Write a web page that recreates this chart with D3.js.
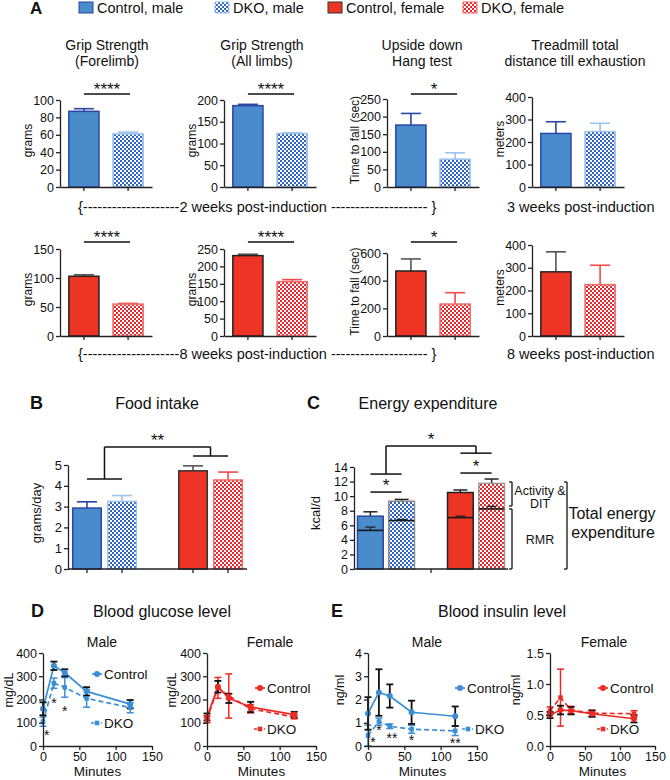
<!DOCTYPE html>
<html><head><meta charset="utf-8">
<script src="https://cdn.jsdelivr.net/npm/d3@7"></script>
<style>body{margin:0;background:#fff}svg{display:block}</style>
</head><body><svg id="chart" width="670" height="780"></svg>
<script>
// ---------------- DATA ----------------
const groupLabels = ["Control, male", "DKO, male", "Control, female", "DKO, female"];
const testTitles = [["Grip Strength","(Forelimb)"],["Grip Strength","(All limbs)"],["Upside down","Hang test"],["Treadmill total","distance till exhaustion"]];
const testYLabels = ["grams","grams","Time to fall (sec)","meters"];
const maleYMax = [100, 200, 250, 400];
const maleYStep = [20, 50, 50, 100];
const femaleYMax = [150, 250, 600, 400];
const femaleYStep = [50, 50, 200, 100];
const maleCtrlMean = [87, 187, 176, 238];
const maleCtrlErr = [3, 3, 33, 52];
const maleDkoMean = [61, 123, 79, 246];
const maleDkoErr = [2, 1.5, 18, 37];
const femCtrlMean = [103, 231, 470, 282];
const femCtrlErr = [2.5, 4, 87, 88];
const femDkoMean = [55, 156, 231, 226];
const femDkoErr = [1.2, 6, 82, 85];
const maleSig = ["****", "****", "*", ""];
const femSig = ["****", "****", "*", ""];
const captionsRow1 = ["2 weeks post-induction", "3 weeks post-induction"];
const captionsRow2 = ["8 weeks post-induction", "8 weeks post-induction"];

const foodSex = ["male", "male", "female", "female"];
const foodGeno = ["Control", "DKO", "Control", "DKO"];
const foodMean = [2.93, 3.25, 4.72, 4.28];
const foodErr = [0.3, 0.28, 0.24, 0.38];
const foodTicks = [0, 1, 2, 3, 4, 5];

const energyTotal = [7.25, 9.3, 10.5, 11.75];
const energyTotalErr = [0.6, 0.25, 0.35, 0.6];
const energyRmr = [5.3, 6.65, 7.05, 8.25];
const energyRmrErr = [0.45, 0.15, 0.2, 0.35];
const energyTicks = [0, 2, 4, 6, 8, 10, 12, 14];

const minutes = [0, 15, 30, 60, 120];
const minuteTicks = [0, 50, 100, 150];
const glucoseTicks = [0, 100, 200, 300, 400];
const glucMaleCtrl = [160, 345, 315, 235, 180];
const glucMaleCtrlErr = [28, 18, 15, 18, 18];
const glucMaleDko = [105, 270, 252, 205, 165];
const glucMaleDkoErr = [20, 22, 42, 38, 22];
const glucFemCtrl = [125, 255, 205, 168, 135];
const glucFemCtrlErr = [15, 25, 20, 22, 12];
const glucFemDko = [115, 250, 215, 160, 125];
const glucFemDkoErr = [15, 45, 95, 18, 8];
const insMaleTicks = [0, 1, 2, 3, 4];
const insMaleCtrl = [1.4, 2.3, 2.15, 1.45, 1.28];
const insMaleCtrlErr = [0.7, 1.0, 0.5, 0.5, 0.42];
const insMaleDko = [0.45, 1.05, 0.85, 0.72, 0.65];
const insMaleDkoErr = [0.45, 0.15, 0.1, 0.17, 0.2];
const insFemTicks = [0, 0.5, 1.0, 1.5];
const insFemCtrl = [0.5, 0.58, 0.57, 0.52, 0.44];
const insFemCtrlErr = [0.05, 0.07, 0.06, 0.05, 0.06];
const insFemDko = [0.57, 0.78, 0.58, 0.53, 0.52];
const insFemDkoErr = [0.06, 0.46, 0.06, 0.05, 0.05];
// star annotations: [minute, value, label]
const glucMaleStars = [[5, 50, "*"], [15, 190, "*"], [30, 155, "*"]];
const insMaleStars = [[7, 0.22, "*"], [15, 0.72, "*"], [33, 0.38, "**"], [60, 0.3, "*"], [120, 0.18, "**"]];

// ---------------- SETUP ----------------
const FONT = "'Liberation Sans', Arial, Helvetica, sans-serif";
const COL = {
  blue: "#4a8bcb", blueStroke: "#2a46a6", blueLight: "#9cc3ec", blueHatch: "#2f63c6",
  red: "#ee3424", redStroke: "#222", redLight: "#f26b6b", redHatch: "#e8262b",
  lineBlue: "#3a8ed6", lineRed: "#ee2a24", ink: "#111"
};
const svg = d3.select("#chart");
svg.append("rect").attr("width", 670).attr("height", 780).attr("fill", "#fff");
const defs = svg.append("defs");
function checker(id, color) {
  const p = defs.append("pattern").attr("id", id).attr("width", 4).attr("height", 4)
    .attr("patternUnits", "userSpaceOnUse");
  p.append("rect").attr("width", 4).attr("height", 4).attr("fill", "#fff");
  p.append("rect").attr("width", 2).attr("height", 2).attr("fill", color);
  p.append("rect").attr("x", 2).attr("y", 2).attr("width", 2).attr("height", 2).attr("fill", color);
}
checker("chkBlue", COL.blueHatch);
checker("chkRed", COL.redHatch);

function txt(x, y, s, o = {}) {
  const t = svg.append("text").attr("x", x).attr("y", y).text(s)
    .attr("font-family", FONT).attr("font-size", o.fs || 14).attr("fill", o.fill || COL.ink)
    .attr("text-anchor", o.anchor || "start");
  if (o.bold) t.attr("font-weight", "bold");
  if (o.rotate) t.attr("transform", `rotate(-90,${x},${y})`);
  return t;
}
function ln(x1, y1, x2, y2, stroke = COL.ink, w = 1.3, dash = null) {
  const l = svg.append("line").attr("x1", x1).attr("y1", y1).attr("x2", x2).attr("y2", y2)
    .attr("stroke", stroke).attr("stroke-width", w);
  if (dash) l.attr("stroke-dasharray", dash);
  return l;
}
function styleAxis(g, fs) {
  g.attr("font-family", FONT).attr("font-size", fs);
  g.select(".domain").attr("stroke", "#222").attr("stroke-width", 1.3);
  g.selectAll(".tick line").attr("stroke", "#222").attr("stroke-width", 1.3);
  g.selectAll(".tick text").attr("fill", COL.ink);
}
function leftAxis(scale, x, ticks, fmt, fs = 12) {
  const g = svg.append("g").attr("transform", `translate(${x},0)`)
    .call(d3.axisLeft(scale).tickValues(ticks).tickFormat(fmt).tickSize(4).tickSizeOuter(0).tickPadding(2));
  styleAxis(g, fs);
  return g;
}
function errBar(x, yFrom, yTo, half, color, w = 1.5) {
  ln(x, yFrom, x, yTo, color, w);
  ln(x - half, yTo, x + half, yTo, color, w);
}

// ---------------- PANEL A ----------------
txt(30, 14, "A", { fs: 17, bold: true });
const legendX = [79, 215, 328, 463];
const legendFill = [COL.blue, "url(#chkBlue)", COL.red, "url(#chkRed)"];
const legendStroke = [COL.blueStroke, COL.blueLight, "#333", COL.redLight];
groupLabels.forEach((g, i) => {
  svg.append("rect").attr("x", legendX[i]).attr("y", 2).attr("width", 14).attr("height", 11)
    .attr("fill", legendFill[i]).attr("stroke", legendStroke[i]).attr("stroke-width", 1);
  txt(legendX[i] + 18, 13, g, { fs: 14.5 });
});
const titleX = [107, 262, 422, 575];
testTitles.forEach((t, i) => {
  txt(titleX[i], 50, t[0], { anchor: "middle", fs: 14 });
  txt(titleX[i], 66, t[1], { anchor: "middle", fs: 14 });
});

const colAxisX = [60, 224, 387, 532];
const rowsA = [
  { top: [100, 100, 99, 97], bot: 187, yMax: maleYMax, step: maleYStep,
    cm: maleCtrlMean, ce: maleCtrlErr, dm: maleDkoMean, de: maleDkoErr, sig: maleSig, sigY: 94,
    cFill: COL.blue, cStroke: COL.blueStroke, cErr: COL.blueStroke,
    dFill: "url(#chkBlue)", dStroke: COL.blueLight, dErr: COL.blueLight },
  { top: [249, 249, 253, 245], bot: 336, yMax: femaleYMax, step: femaleYStep,
    cm: femCtrlMean, ce: femCtrlErr, dm: femDkoMean, de: femDkoErr, sig: femSig, sigY: 242,
    cFill: COL.red, cStroke: COL.redStroke, cErr: "#555",
    dFill: "url(#chkRed)", dStroke: COL.redLight, dErr: "#f04a4a" }
];
rowsA.forEach(r => {
  colAxisX.forEach((ax, c) => {
    const y = d3.scaleLinear().domain([0, r.yMax[c]]).range([r.bot, r.top[c]]);
    const x = d3.scaleBand().domain(["Control", "DKO"]).range([ax, ax + 92]).paddingInner(0.318).paddingOuter(0.2);
    const bw = x.bandwidth();
    const bars = [
      { k: "Control", m: r.cm[c], e: r.ce[c], fill: r.cFill, stroke: r.cStroke, err: r.cErr },
      { k: "DKO", m: r.dm[c], e: r.de[c], fill: r.dFill, stroke: r.dStroke, err: r.dErr }
    ];
    bars.forEach(b => {
      errBar(x(b.k) + bw / 2, y(b.m), y(b.m + b.e), 10, b.err, 1.6);
      svg.append("rect").attr("x", x(b.k)).attr("y", y(b.m)).attr("width", bw).attr("height", y(0) - y(b.m))
        .attr("fill", b.fill).attr("stroke", b.stroke).attr("stroke-width", 1.5);
    });
    const ticks = d3.range(0, r.yMax[c] + 0.001, r.step[c]);
    leftAxis(y, ax, ticks, d3.format("d"), 12.5);
    const xb = svg.append("g").attr("transform", `translate(0,${r.bot})`)
      .call(d3.axisBottom(x).tickSize(4).tickSizeOuter(0).tickFormat(""));
    styleAxis(xb, 12);
    txt(ax - 28, (r.top[c] + r.bot) / 2 - 3, testYLabels[c], { fs: 12, anchor: "middle", rotate: true });
    if (r.sig[c]) {
      const x1 = x("Control") + bw / 2, x2 = x("DKO") + bw / 2 + 2;
      ln(x1, r.sigY, x2, r.sigY, COL.ink, 1.4);
      txt((x1 + x2) / 2, r.sigY + 1, r.sig[c], { fs: 17, anchor: "middle" });
    }
  });
});
const dashes = "-".repeat(20);
txt(78, 212, "{" + dashes + captionsRow1[0] + " " + dashes + " }", { fs: 14.5 });
txt(507, 212, captionsRow1[1], { fs: 14.5 });
txt(78, 359, "{" + dashes + captionsRow2[0] + " " + dashes + " }", { fs: 14.5 });
txt(507, 359, captionsRow2[1], { fs: 14.5 });

// ---------------- PANEL B ----------------
txt(30, 409, "B", { fs: 18, bold: true });
txt(157, 409, "Food intake", { fs: 16, anchor: "middle" });
{
  const bx = d3.scaleBand().domain(["male", "female"]).range([68, 247]).paddingInner(0.396).paddingOuter(0.042);
  const bxi = d3.scaleBand().domain(["Control", "DKO"]).range([0, bx.bandwidth()]).paddingInner(0.186).paddingOuter(0.007);
  const by = d3.scaleLinear().domain([0, 5]).range([569, 465]);
  const bw = bxi.bandwidth();
  const fills = [COL.blue, "url(#chkBlue)", COL.red, "url(#chkRed)"];
  const strokes = [COL.blueStroke, COL.blueLight, "#333", COL.redLight];
  const errs = [COL.blueStroke, COL.blueLight, "#555", "#f04a4a"];
  const cx = i => bx(foodSex[i]) + bxi(foodGeno[i]) + bw / 2;
  foodMean.forEach((m, i) => {
    const x0 = bx(foodSex[i]) + bxi(foodGeno[i]);
    errBar(x0 + bw / 2, by(m), by(m + foodErr[i]), 10, errs[i], 1.6);
    svg.append("rect").attr("x", x0).attr("y", by(m)).attr("width", bw).attr("height", by(0) - by(m))
      .attr("fill", fills[i]).attr("stroke", strokes[i]).attr("stroke-width", 1.5);
  });
  leftAxis(by, 68, foodTicks, d3.format("d"), 13);
  ln(68, 569, 247, 569, "#222", 1.3);
  foodMean.forEach((m, i) => ln(cx(i), 569, cx(i), 573, "#222", 1.3));
  txt(41, 513, "grams/day", { fs: 13, anchor: "middle", rotate: true });
  const yM = by(4.33), yF = by(5.43), yT = by(5.87);
  const mMid = (cx(0) + cx(1)) / 2, fMid = (cx(2) + cx(3)) / 2;
  ln(cx(0), yM, cx(1), yM, COL.ink, 1.5);
  ln(cx(2), yF, cx(3), yF, COL.ink, 1.5);
  ln(mMid, yM, mMid, yT, COL.ink, 1.5);
  ln(fMid, yF, fMid, yT, COL.ink, 1.5);
  ln(mMid, yT, fMid, yT, COL.ink, 1.5);
  txt((mMid + fMid) / 2, yT - 1, "**", { fs: 17, anchor: "middle" });
}

// ---------------- PANEL C ----------------
txt(307, 409, "C", { fs: 18, bold: true });
txt(428, 409, "Energy expenditure", { fs: 16, anchor: "middle" });
{
  const cxs = d3.scaleBand().domain(["male", "female"]).range([354, 508]).paddingInner(0.367).paddingOuter(0.039);
  const cxi = d3.scaleBand().domain(["Control", "DKO"]).range([0, cxs.bandwidth()]).paddingInner(0.177).paddingOuter(0);
  const cy = d3.scaleLinear().domain([0, 14]).range([569, 467]);
  const bw = cxi.bandwidth();
  const fills = [COL.blue, "url(#chkBlue)", COL.red, "url(#chkRed)"];
  const strokes = ["#2a4a9a", "#8a8a8a", "#222", "#999"];
  const cx = i => cxs(foodSex[i]) + cxi(foodGeno[i]) + bw / 2;
  energyTotal.forEach((m, i) => {
    const x0 = cx(i) - bw / 2;
    errBar(cx(i), cy(m), cy(m + energyTotalErr[i]), 7, "#222", 1.5);
    svg.append("rect").attr("x", x0).attr("y", cy(m)).attr("width", bw).attr("height", cy(0) - cy(m))
      .attr("fill", fills[i]).attr("stroke", strokes[i]).attr("stroke-width", 1.5);
    errBar(cx(i), cy(energyRmr[i]), cy(energyRmr[i] + energyRmrErr[i]), 5, "#222", 1.3);
    ln(x0, cy(energyRmr[i]), x0 + bw, cy(energyRmr[i]), "#1a1a1a", 1.6);
  });
  leftAxis(cy, 354, energyTicks, d3.format("d"), 12.5);
  ln(354, 569, 508, 569, "#222", 1.3);
  ln(431, 569, 431, 573, "#222", 1.3);
  txt(320, 513, "kcal/d", { fs: 13, anchor: "middle", rotate: true });
  const mMid = (cx(0) + cx(1)) / 2, fMid = (cx(2) + cx(3)) / 2;
  const yMl = cy(10.56), yMu = cy(13.03), yFl = cy(13.17), yFu = cy(15.9), yT = cy(16.87);
  ln(cx(0), yMl, cx(1), yMl, COL.ink, 1.5);
  txt(mMid, yMl - 1, "*", { fs: 17, anchor: "middle" });
  ln(cx(0), yMu, cx(1), yMu, COL.ink, 1.5);
  ln(cx(2), yFl, cx(3), yFl, COL.ink, 1.5);
  txt(fMid, yFl - 1, "*", { fs: 17, anchor: "middle" });
  ln(cx(2), yFu, cx(3), yFu, COL.ink, 1.5);
  ln(mMid, yMu, mMid, yT, COL.ink, 1.5);
  ln(fMid, yFu, fMid, yT, COL.ink, 1.5);
  ln(mMid, yT, fMid, yT, COL.ink, 1.5);
  txt((mMid + fMid) / 2, yT - 1, "*", { fs: 17, anchor: "middle" });
  function bracket(x, y1, y2) {
    ln(x - 3, y1, x, y1, COL.ink, 1.3); ln(x, y1, x, y2, COL.ink, 1.3); ln(x - 3, y2, x, y2, COL.ink, 1.3);
  }
  bracket(512, 482, 506);
  bracket(512, 509, 569);
  bracket(567, 482, 569);
  txt(540, 495, "Activity &", { fs: 12.5, anchor: "middle" });
  txt(540, 508, "DIT", { fs: 12.5, anchor: "middle" });
  txt(540, 544, "RMR", { fs: 12.5, anchor: "middle" });
  txt(612, 519, "Total energy", { fs: 16, anchor: "middle" });
  txt(613, 538, "expenditure", { fs: 16, anchor: "middle" });
}

// ---------------- PANELS D & E ----------------
txt(31, 617, "D", { fs: 18, bold: true });
txt(162, 617, "Blood glucose level", { fs: 16, anchor: "middle" });
txt(331, 617, "E", { fs: 18, bold: true });
txt(502, 617, "Blood insulin level", { fs: 16, anchor: "middle" });

function lineChart(o) {
  const width = o.width || 109;
  const x = d3.scaleLinear().domain([0, 150]).range([o.ax, o.ax + width]);
  const y = d3.scaleLinear().domain([0, o.yMax]).range([746, 653]);
  const series = [
    { m: o.dko, e: o.dkoErr, dash: "5,3", errCol: o.color, shape: "sq" },
    { m: o.ctrl, e: o.ctrlErr, dash: null, errCol: "#111", shape: "ci" }
  ];
  series.forEach(s => {
    const pts = minutes.map((t, i) => [x(t), y(s.m[i])]);
    const p = svg.append("path").attr("d", d3.line()(pts)).attr("fill", "none")
      .attr("stroke", o.color).attr("stroke-width", 1.7);
    if (s.dash) p.attr("stroke-dasharray", s.dash);
  });
  series.forEach(s => {
    minutes.forEach((t, i) => {
      const px = x(t);
      const w = s.shape === "ci" ? 1.8 : 1.5;
      const y1 = y(s.m[i] - s.e[i]), y2 = y(s.m[i] + s.e[i]);
      ln(px, y1, px, y2, s.errCol, w);
      ln(px - 3.5, y1, px + 3.5, y1, s.errCol, w);
      ln(px - 3.5, y2, px + 3.5, y2, s.errCol, w);
    });
  });
  series.forEach(s => {
    minutes.forEach((t, i) => {
      if (s.shape === "ci") svg.append("circle").attr("cx", x(t)).attr("cy", y(s.m[i])).attr("r", 3).attr("fill", o.color);
      else svg.append("rect").attr("x", x(t) - 2.3).attr("y", y(s.m[i]) - 2.3).attr("width", 4.6).attr("height", 4.6).attr("fill", o.color);
    });
  });
  leftAxis(y, o.ax, o.yTicks, o.fmt, 12.5);
  const xb = svg.append("g").attr("transform", "translate(0,746)")
    .call(d3.axisBottom(x).tickValues(minuteTicks).tickSize(4).tickSizeOuter(0).tickPadding(2));
  styleAxis(xb, 12.5);
  txt(o.ax + width / 2, 776, "Minutes", { fs: 13.5, anchor: "middle" });
  txt(o.titleX, 647, o.title, { fs: 14, anchor: "middle" });
  txt(o.ax - o.ylOff, 690, o.ylabel, { fs: 12.5, anchor: "middle", rotate: true });
  const lc = o.legCtrl, ld = o.legDko;
  ln(lc[0] - 5, lc[1], lc[0] + 5, lc[1], o.color, 1.7);
  svg.append("circle").attr("cx", lc[0]).attr("cy", lc[1]).attr("r", 3).attr("fill", o.color);
  txt(lc[0] + 7, lc[1] + 5, "Control", { fs: 13.5 });
  ln(ld[0] - 6, ld[1], ld[0] + 5, ld[1], o.color, 1.7, "3,2");
  svg.append("rect").attr("x", ld[0] - 2.3).attr("y", ld[1] - 2.3).attr("width", 4.6).attr("height", 4.6).attr("fill", o.color);
  txt(ld[0] + 7, ld[1] + 5, "DKO", { fs: 13.5 });
  (o.stars || []).forEach(s => txt(x(s[0]), y(s[1]) + 6, s[2], { fs: 14, anchor: "middle" }));
}
lineChart({ ax: 43, yMax: 400, yTicks: glucoseTicks, fmt: d3.format("d"), color: COL.lineBlue,
  ctrl: glucMaleCtrl, ctrlErr: glucMaleCtrlErr, dko: glucMaleDko, dkoErr: glucMaleDkoErr,
  title: "Male", titleX: 102, ylabel: "mg/dL", ylOff: 30, legCtrl: [97, 674], legDko: [97, 723], stars: glucMaleStars });
lineChart({ ax: 207, yMax: 400, yTicks: glucoseTicks, fmt: d3.format("d"), color: COL.lineRed,
  ctrl: glucFemCtrl, ctrlErr: glucFemCtrlErr, dko: glucFemDko, dkoErr: glucFemDkoErr,
  title: "Female", titleX: 270, ylabel: "mg/dL", ylOff: 31, legCtrl: [260, 688], legDko: [260, 729] });
lineChart({ ax: 368, yMax: 4, yTicks: insMaleTicks, fmt: d3.format("d"), color: COL.lineBlue,
  ctrl: insMaleCtrl, ctrlErr: insMaleCtrlErr, dko: insMaleDko, dkoErr: insMaleDkoErr,
  title: "Male", titleX: 427, ylabel: "ng/ml", ylOff: 24, legCtrl: [460, 688], legDko: [468, 729], stars: insMaleStars });
lineChart({ ax: 550, width: 105, yMax: 1.5, yTicks: insFemTicks, fmt: d3.format(".1f"), color: COL.lineRed,
  ctrl: insFemCtrl, ctrlErr: insFemCtrlErr, dko: insFemDko, dkoErr: insFemDkoErr,
  title: "Female", titleX: 604, ylabel: "ng/ml", ylOff: 30, legCtrl: [603, 688], legDko: [603, 729] });
</script></body></html>
